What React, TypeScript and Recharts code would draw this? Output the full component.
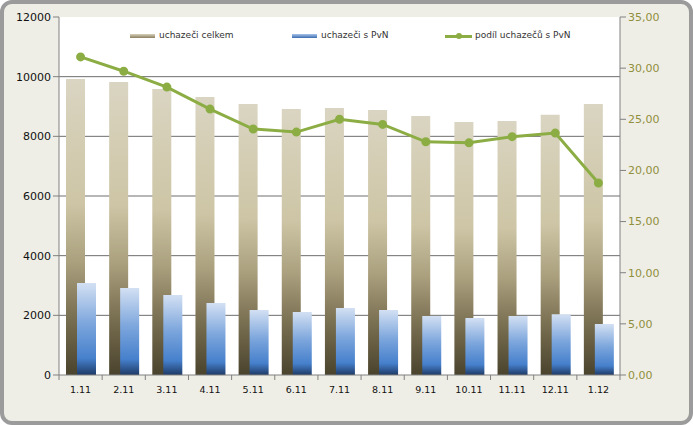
import { ComposedChart, Bar, Line, XAxis, YAxis, CartesianGrid } from 'recharts'

const months = ['1.11', '2.11', '3.11', '4.11', '5.11', '6.11', '7.11', '8.11', '9.11', '10.11', '11.11', '12.11', '1.12']
const total = [9920, 9820, 9590, 9320, 9080, 8920, 8950, 8880, 8680, 8480, 8510, 8720, 9080]
const withPvN = [3080, 2920, 2680, 2410, 2180, 2110, 2250, 2180, 1980, 1910, 1980, 2040, 1710]
const share = [31.1, 29.7, 28.15, 26.0, 24.05, 23.75, 25.0, 24.5, 22.8, 22.7, 23.3, 23.65, 18.77]
const leftTicks = [0, 2000, 4000, 6000, 8000, 10000, 12000]
const rightTicks = [0, 5, 10, 15, 20, 25, 30, 35]
const seriesNames = ['uchazeči celkem', 'uchazeči s PvN', 'podíl uchazečů s PvN']

const data = months.map((m, i) => ({ month: m, total: total[i], pvn: withPvN[i], share: share[i] }))

const FONT = 'Tahoma, "DejaVu Sans", sans-serif'
const GREEN = '#8cad44'
const BAND = 561 / months.length

// x tick with Excel-like marks on the category boundaries
const MonthTick = ({ x, y, payload, index }: any) => (
  <g>
    <line x1={x - BAND / 2} y1={y - 8} x2={x - BAND / 2} y2={y - 3} stroke="#808080" />
    {index === months.length - 1 && (
      <line x1={x + BAND / 2} y1={y - 8} x2={x + BAND / 2} y2={y - 3} stroke="#808080" />
    )}
    <text x={x} y={y + 10} textAnchor="middle" fontSize={9.5} fill="#111" fontFamily={FONT}>
      {payload.value}
    </text>
  </g>
)

export default function App() {
  return (
    <div style={{ position: 'absolute', left: 0, top: 0, width: 693, height: 425, background: '#fff' }}>
      <div
        style={{
          position: 'absolute',
          inset: 0,
          background: '#efeee6',
          border: '4px solid #9b9b9b',
          borderRadius: 12,
          boxSizing: 'border-box',
        }}
      />
      <div style={{ position: 'absolute', left: 0, top: 0 }}>
        <ComposedChart width={693} height={425} data={data} margin={{ top: 17, right: 0, bottom: 20, left: 0 }} barGap={-8}>
          <defs>
            <linearGradient id="tanGrad" x1="0" y1="0" x2="0" y2="1">
              <stop offset="0" stopColor="#dad5c2" />
              <stop offset="0.42" stopColor="#cdc5a5" />
              <stop offset="0.62" stopColor="#aaa07e" />
              <stop offset="0.8" stopColor="#7a7052" />
              <stop offset="1" stopColor="#4a432d" />
            </linearGradient>
            <linearGradient id="blueGrad" x1="0" y1="0" x2="0" y2="1">
              <stop offset="0" stopColor="#d3e0f3" />
              <stop offset="0.45" stopColor="#7ba5dc" />
              <stop offset="0.82" stopColor="#4680cc" />
              <stop offset="1" stopColor="#1e3a66" />
            </linearGradient>
          </defs>
          <CartesianGrid
            yAxisId="left"
            vertical={false}
            fill="#ffffff"
            stroke="#6e6e6e"
            horizontalValues={[2000, 4000, 6000, 8000, 10000]}
          />
          <XAxis
            dataKey="month"
            height={30}
            stroke="#808080"
            tickLine={false}
            tick={<MonthTick />}
            interval={0}
          />
          <YAxis
            yAxisId="left"
            width={59}
            domain={[0, 12000]}
            ticks={leftTicks}
            stroke="#808080"
            tickSize={6}
            tick={{ fontSize: 11, fill: '#111', fontFamily: FONT }}
          />
          <YAxis
            yAxisId="right"
            orientation="right"
            width={73}
            domain={[0, 35]}
            ticks={rightTicks}
            stroke="#808080"
            tickSize={6}
            tickFormatter={(v: number) => v.toFixed(2).replace('.', ',')}
            tick={{ fontSize: 11, fill: '#8f8f3c', fontFamily: FONT }}
          />
          <Bar yAxisId="left" dataKey="total" name={seriesNames[0]} fill="url(#tanGrad)" barSize={19} isAnimationActive={false} />
          <Bar yAxisId="left" dataKey="pvn" name={seriesNames[1]} fill="url(#blueGrad)" barSize={19} isAnimationActive={false} />
          <Line
            yAxisId="right"
            dataKey="share"
            name={seriesNames[2]}
            stroke={GREEN}
            strokeWidth={3}
            dot={{ r: 3, fill: GREEN, stroke: GREEN }}
            isAnimationActive={false}
          />
        </ComposedChart>
      </div>
      {/* legend */}
      <div style={{ position: 'absolute', top: 30, left: 0, width: 693, fontFamily: FONT, fontSize: 9, color: '#333' }}>
        <div style={{ position: 'absolute', left: 130, top: 4, width: 25, height: 4, background: 'linear-gradient(#d8d2bc, #8a8060)' }} />
        <div style={{ position: 'absolute', left: 159, top: 0, whiteSpace: 'nowrap' }}>{seriesNames[0]}</div>
        <div style={{ position: 'absolute', left: 292, top: 4, width: 25, height: 4, background: 'linear-gradient(#a9c3ea, #3c6db0)' }} />
        <div style={{ position: 'absolute', left: 321, top: 0, whiteSpace: 'nowrap' }}>{seriesNames[1]}</div>
        <div style={{ position: 'absolute', left: 445, top: 5, width: 27, height: 3, background: GREEN }} />
        <div style={{ position: 'absolute', left: 456, top: 3, width: 6, height: 6, borderRadius: 3, background: GREEN }} />
        <div style={{ position: 'absolute', left: 475, top: 0, whiteSpace: 'nowrap' }}>{seriesNames[2]}</div>
      </div>
    </div>
  )
}
